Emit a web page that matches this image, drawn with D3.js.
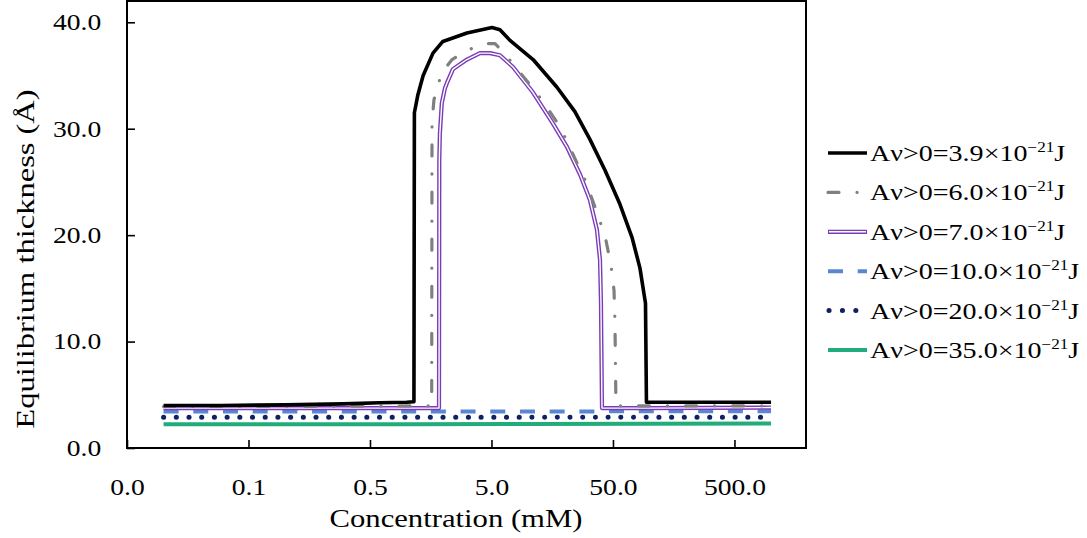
<!DOCTYPE html>
<html><head><meta charset="utf-8">
<script src="https://cdn.jsdelivr.net/npm/d3@7"></script>
<style>
body{margin:0;background:#fff}
svg{display:block}
text{font-family:"Liberation Serif","Times New Roman",serif;fill:#000}
</style>
</head><body>
<svg id="chart" width="1087" height="538"></svg>
<script>
// ---------- data ----------
const xTickValues = [0.005, 0.05, 0.5, 5, 50, 500];
const xTickLabels = ["0.0", "0.1", "0.5", "5.0", "50.0", "500.0"];
const yTickValues = [0, 10, 20, 30, 40];
const yTickLabels = ["0.0", "10.0", "20.0", "30.0", "40.0"];

const seriesNames = ["3.9", "6.0", "7.0", "10.0", "20.0", "35.0"];

const concA = [0.01,0.03,0.1,0.3,0.6,1.0,1.15,1.16,1.24,1.37,1.65,1.99,3.14,5.05,5.87,7.1,11.0,17.3,24.3,32.3,43.0,57.1,71.7,83.4,90.0,92.6,94.3,200,500,1000];
const thickA = [4.0,4.0,4.05,4.15,4.25,4.3,4.35,31.5,33.2,35.0,37.1,38.2,39.0,39.5,39.3,38.3,36.5,33.9,31.6,29.0,26.1,22.9,19.8,16.9,14.5,13.6,4.3,4.3,4.3,4.3];

const concB = [0.01,0.1,1.0,1.61,1.62,1.68,1.78,1.96,2.37,2.91,3.66,4.42,5.35,6.34,8.26,11.0,14.3,18.3,22.1,29.4,37.6,43.8,48.1,51.0,51.9,52.9,100,1000];
const thickB = [3.9,3.9,3.95,3.95,30.5,32.7,33.8,35.3,36.5,37.1,37.7,38.0,38.0,37.1,35.5,33.8,32.0,30.2,28.2,25.2,21.9,19.5,17.2,14.8,12.0,3.95,3.95,3.95];

const concC = [0.01,0.1,1.0,1.85,1.86,1.88,1.95,2.07,2.15,2.41,3.14,4.02,4.86,5.87,7.52,11.0,16.0,20.9,26.8,32.3,36.9,39.1,39.8,40.6,100,1000];
const thickC = [3.75,3.75,3.75,3.75,27.0,29.5,32.4,33.8,34.3,35.6,36.5,37.1,37.1,36.9,35.8,33.4,30.5,28.3,25.7,23.3,20.5,17.7,13.9,3.75,3.75,3.8];

const concFlat = [0.01, 0.1, 1, 10, 100, 1000];
const thickD = [3.42, 3.42, 3.42, 3.43, 3.45, 3.45];
const thickE = [2.88, 2.88, 2.88, 2.88, 2.9, 2.9];
const thickF = [2.22, 2.22, 2.23, 2.25, 2.27, 2.3];

// ---------- layout ----------
const svg = d3.select("#chart");
const L = 127, R = 806, T = 1, B = 448;
const SX = 1.2; // horizontal glyph stretch of the original figure

const x = d3.scaleLog().domain([0.005, 1940]).range([L, R]);
const y = d3.scaleLinear().domain([0, 42]).range([B, T]);

const zip = (cs, vs) => cs.map((c, i) => [c, vs[i]]);
const line = d3.line().x(d => x(d[0])).y(d => y(d[1]));

const styles = {
  a: {color: "#000000", width: 3.6},
  b: {color: "#808080", width: 3.2, dash: "11,18,0.1,18", cap: "round"},
  c: {color: "#7a3bb8", width: 4.2, double: true},
  d: {color: "#5b86d2", width: 4, dash: "15,14.7"},
  e: {color: "#0d2260", width: 5, dash: "0.1,12.6", cap: "round"},
  f: {color: "#22ac7c", width: 4}
};

const series = [
  {data: zip(concFlat, thickF), st: styles.f},
  {data: zip(concFlat, thickE), st: styles.e},
  {data: zip(concFlat, thickD), st: styles.d},
  {data: zip(concC, thickC), st: styles.c},
  {data: zip(concB, thickB), st: styles.b},
  {data: zip(concA, thickA), st: styles.a}
];

const g = svg.append("g");
series.forEach(s => {
  const st = s.st;
  g.append("path")
    .attr("d", line(s.data))
    .attr("fill", "none")
    .attr("stroke", st.color)
    .attr("stroke-width", st.width)
    .attr("stroke-linejoin", "round")
    .attr("stroke-linecap", st.cap || "butt")
    .attr("stroke-dasharray", st.dash || null);
  if (st.double) {
    g.append("path")
      .attr("d", line(s.data))
      .attr("fill", "none")
      .attr("stroke", "#fff")
      .attr("stroke-width", 1.4)
      .attr("stroke-linejoin", "round");
  }
});

// frame
svg.append("rect").attr("x", L).attr("y", T).attr("width", R - L).attr("height", B - T)
  .attr("fill", "none").attr("stroke", "#000").attr("stroke-width", 2);

// x axis (inner ticks)
const xAxis = d3.axisBottom(x).tickValues(xTickValues)
  .tickFormat((d, i) => xTickLabels[i]).tickSizeInner(-8).tickSizeOuter(0).tickPadding(31);
const gx = svg.append("g").attr("transform", `translate(0,${B})`).call(xAxis);
gx.select(".domain").remove();
gx.selectAll(".tick line").attr("stroke", "#000").attr("stroke-width", 1.6);
gx.selectAll(".tick text").attr("font-size", 23).attr("font-family", "Liberation Serif")
  .attr("fill", "#000").attr("transform", `scale(${SX},1)`);

// y axis
const yAxis = d3.axisLeft(y).tickValues(yTickValues)
  .tickFormat((d, i) => yTickLabels[i]).tickSizeInner(-8).tickSizeOuter(0).tickPadding(21.5);
const gy = svg.append("g").attr("transform", `translate(${L},0)`).call(yAxis);
gy.select(".domain").remove();
gy.selectAll(".tick line").attr("stroke", "#000").attr("stroke-width", 1.6);
gy.selectAll(".tick text").attr("font-size", 23).attr("font-family", "Liberation Serif")
  .attr("fill", "#000").attr("transform", `scale(${SX},1)`);

// axis titles
svg.append("text").attr("transform", `translate(456,527) scale(1.18,1)`).attr("text-anchor", "middle")
  .attr("font-size", 26).text("Concentration (mM)");
svg.append("text").attr("transform", `translate(34,259) rotate(-90) scale(1.25,1)`).attr("text-anchor", "middle")
  .attr("font-size", 26).text("Equilibrium thickness (Å)");

// legend
const legendOrder = ["a", "b", "c", "d", "e", "f"];
const lg = svg.append("g");
seriesNames.forEach((name, i) => {
  const yy = 153 + i * 39.4;
  const st = styles[legendOrder[i]];
  const x0 = legendOrder[i] === "e" ? 829 : 828;
  lg.append("line").attr("x1", x0).attr("x2", 867).attr("y1", yy).attr("y2", yy)
    .attr("stroke", st.color).attr("stroke-width", st.width)
    .attr("stroke-linecap", st.cap || "butt")
    .attr("stroke-dasharray", legendOrder[i] === "e" ? "0.1,13.3" : (st.dash || null));
  if (st.double) {
    lg.append("line").attr("x1", 829).attr("x2", 866).attr("y1", yy).attr("y2", yy)
      .attr("stroke", "#fff").attr("stroke-width", 1.4);
  }
  const t = lg.append("text").attr("transform", `translate(870,${yy + 8}) scale(1.22,1)`).attr("font-size", 23);
  t.append("tspan").text(`Aν>0=${name}×10`);
  t.append("tspan").attr("font-size", 14).attr("dy", -9).text("−21");
  t.append("tspan").attr("font-size", 23).attr("dy", 9).text("J");
});
</script>
</body></html>
